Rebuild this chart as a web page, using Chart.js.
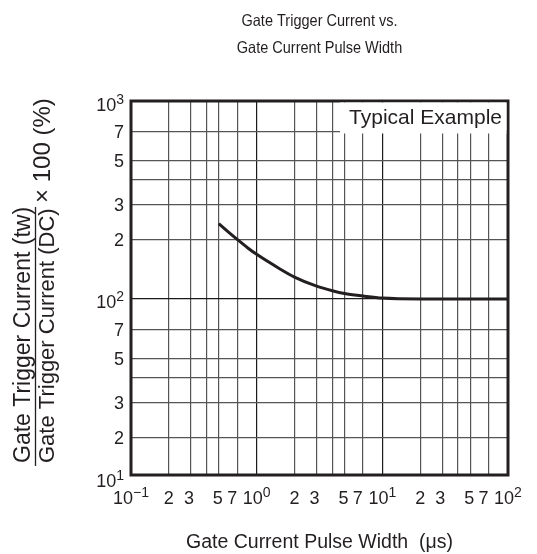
<!DOCTYPE html>
<html>
<head>
<meta charset="utf-8">
<script src="https://cdn.jsdelivr.net/npm/chart.js@4/dist/chart.umd.min.js"></script>
<style>
  html, body { margin: 0; padding: 0; background: #fff; }
  #wrap { width: 537px; height: 554px; }
</style>
</head>
<body>
<div id="wrap"><canvas id="myChart" width="537" height="554"></canvas></div>
<script>
// pulse width (us) and trigger current ratio (%)
const pulseWidth = [0.5, 0.6, 0.7, 0.85, 1, 1.5, 2, 3, 4, 5, 7, 10, 20, 50, 100];
const triggerRatio = [240, 217, 200, 181, 168, 143, 129, 116, 110, 106.5, 103.5, 101, 100, 100, 100];

// axis ranges and grid
const X_MIN = 0.1, X_MAX = 100;
const Y_MIN = 12.9, Y_MAX = 1000;
const xGridValues = [0.1, 0.2, 0.3, 0.4, 0.5, 0.7, 1, 2, 3, 4, 5, 7, 10, 20, 30, 40, 50, 70, 100];
const yGridValues = [Y_MIN, 20, 30, 40, 50, 70, 100, 200, 300, 400, 500, 700, 1000];
const xMajor = [1, 10];
const yMajor = [100];

// tick labels, "^" marks the exponent
const xLabelValues = [0.1, 0.2, 0.3, 0.5, 0.7, 1, 2, 3, 5, 7, 10, 20, 30, 50, 70, 100];
const xLabelText = ['10^\u22121', '2', '3', '5', '7', '10^0', '2', '3', '5', '7', '10^1', '2', '3', '5', '7', '10^2'];
const yLabelValues = [Y_MIN, 20, 30, 50, 70, 100, 200, 300, 500, 700, 1000];
const yLabelText = ['10^1', '2', '3', '5', '7', '10^2', '2', '3', '5', '7', '10^3'];

const FONT = '"Liberation Sans", Arial, Helvetica, sans-serif';
const INK = '#231f20';

// nudge crowded x labels so they don't run into the next power of ten
const xNudge = { '3': -2, '5': -1, '7': -5 };

function drawLabel(ctx, text, x, y, align) {
  const parts = text.split('^');
  ctx.font = '18px ' + FONT;
  const wb = ctx.measureText(parts[0]).width;
  let we = 0;
  if (parts[1]) {
    ctx.font = '14px ' + FONT;
    we = ctx.measureText(parts[1]).width;
  }
  const total = wb + we;
  let left = x - total / 2;
  if (align === 'right') left = x - total;
  ctx.textAlign = 'left';
  ctx.textBaseline = 'alphabetic';
  ctx.font = '18px ' + FONT;
  ctx.fillText(parts[0], left, y);
  if (parts[1]) {
    ctx.font = '14px ' + FONT;
    ctx.fillText(parts[1], left + wb, y - 7);
  }
}

function narrowText(ctx, text, x, y, sx) {
  ctx.save();
  ctx.translate(x, y);
  ctx.scale(sx, 1);
  ctx.fillText(text, 0, 0);
  ctx.restore();
}

const textPlugin = {
  id: 'textPlugin',
  afterDraw(chart) {
    const ctx = chart.ctx;
    const a = chart.chartArea;
    const xs = chart.scales.x, ys = chart.scales.y;
    const cx = (a.left + a.right) / 2;
    ctx.save();
    ctx.fillStyle = INK;

    // frame
    ctx.strokeStyle = INK;
    ctx.lineWidth = 3;
    ctx.strokeRect(a.left, a.top, a.right - a.left, a.bottom - a.top);

    // legend box
    ctx.fillStyle = '#fff';
    ctx.fillRect(340, a.top + 1.5, a.right - 1.5 - 340, 31);
    ctx.fillStyle = INK;
    ctx.font = '21px ' + FONT;
    ctx.textAlign = 'right';
    ctx.textBaseline = 'alphabetic';
    ctx.fillText('Typical Example', a.right - 6, a.top + 23);

    // tick labels
    xLabelValues.forEach((v, i) => {
      const t = xLabelText[i];
      const dx = xNudge[t] || 0;
      drawLabel(ctx, t, xs.getPixelForValue(v) + dx, a.bottom + 29, 'center');
    });
    yLabelValues.forEach((v, i) => {
      const t = yLabelText[i];
      const py = ys.getPixelForValue(v);
      let dy = 6.5;
      if (t.indexOf('^') >= 0) dy = (v === Y_MIN) ? 12 : 9.5;
      drawLabel(ctx, t, a.left - 7, py + dy, 'right');
    });

    // title
    ctx.font = '16.5px ' + FONT;
    ctx.textAlign = 'center';
    narrowText(ctx, 'Gate Trigger Current vs.', cx, 26, 0.88);
    narrowText(ctx, 'Gate Current Pulse Width', cx, 53, 0.88);

    // x axis title
    ctx.font = '19.5px ' + FONT;
    ctx.fillText('Gate Current Pulse Width  (\u03bcs)', cx, 548);

    // y axis title as a fraction
    ctx.save();
    ctx.rotate(-Math.PI / 2);
    ctx.textAlign = 'left';
    ctx.font = '23px ' + FONT;
    ctx.fillText('Gate Trigger Current (tw)', -463, 30);
    ctx.font = '22px ' + FONT;
    ctx.fillText('Gate Trigger Current (DC)', -463, 54);
    ctx.font = '24px ' + FONT;
    ctx.fillText('\u00d7 100 (%)', -203, 50);
    ctx.restore();
    ctx.strokeStyle = INK;
    ctx.lineWidth = 1.3;
    ctx.beginPath();
    ctx.moveTo(35.5, 466);
    ctx.lineTo(35.5, 207);
    ctx.stroke();

    ctx.restore();
  }
};

function gridColor(major) {
  return (c) => {
    const v = c.tick ? c.tick.value : null;
    return major.some(m => Math.abs(m - v) < 1e-9) ? '#1a1a1a' : '#555';
  };
}

new Chart(document.getElementById('myChart'), {
  type: 'line',
  data: {
    datasets: [{
      data: pulseWidth.map((x, i) => ({ x: x, y: triggerRatio[i] })),
      borderColor: INK,
      borderWidth: 3,
      pointRadius: 0,
      cubicInterpolationMode: 'monotone',
      fill: false
    }]
  },
  options: {
    responsive: false,
    animation: false,
    events: [],
    layout: { padding: { left: 131, top: 101, right: 29, bottom: 79 } },
    plugins: {
      legend: { display: false },
      tooltip: { enabled: false },
      title: { display: false }
    },
    scales: {
      x: {
        type: 'logarithmic',
        min: X_MIN,
        max: X_MAX,
        afterBuildTicks: (s) => { s.ticks = xGridValues.map(v => ({ value: v })); },
        afterFit: (s) => { s.height = 0; },
        ticks: { display: false },
        border: { display: false },
        grid: { drawTicks: false, color: gridColor(xMajor), lineWidth: 1.2 }
      },
      y: {
        type: 'logarithmic',
        min: Y_MIN,
        max: Y_MAX,
        afterBuildTicks: (s) => { s.ticks = yGridValues.map(v => ({ value: v })); },
        afterFit: (s) => { s.width = 0; },
        ticks: { display: false },
        border: { display: false },
        grid: { drawTicks: false, color: gridColor(yMajor), lineWidth: 1.2 }
      }
    }
  },
  plugins: [textPlugin]
});
</script>
</body>
</html>
